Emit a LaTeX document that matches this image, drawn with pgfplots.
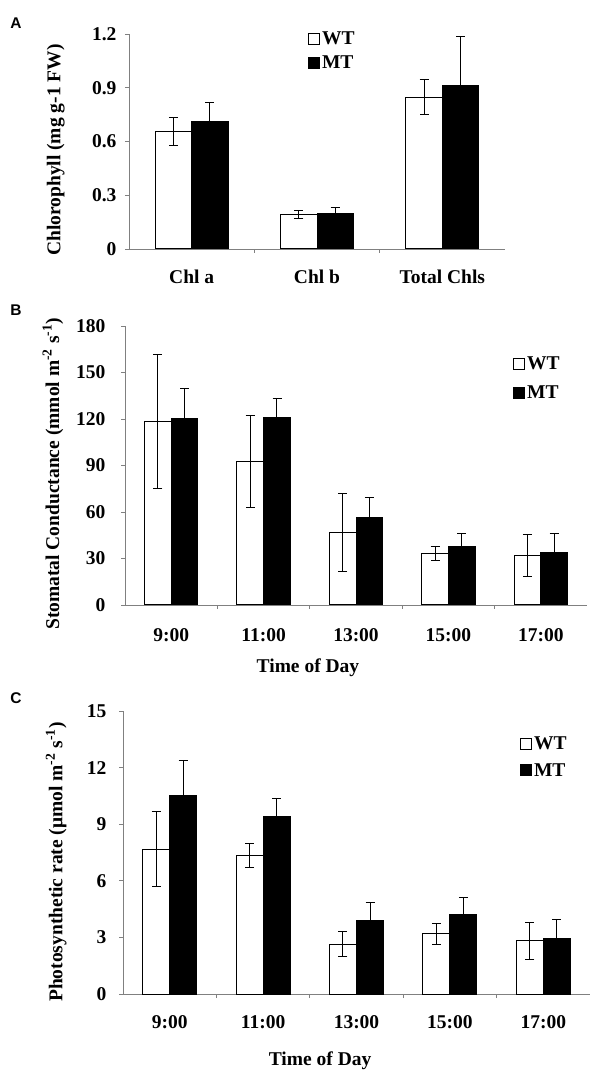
\documentclass[border=0pt]{standalone}
\usepackage{fontspec}
\setmainfont{Liberation Serif}
\newfontfamily\panelfont{Liberation Sans}
\usepackage{pgfplots}
\usepackage{pgfplotstable}
\pgfplotsset{compat=1.18}
\definecolor{axgray}{RGB}{128,128,128}

\pgfplotstableread{
x wt wte mt mte
0 0.657 0.077 0.711 0.104
1 0.193 0.023 0.199 0.034
2 0.848 0.100 0.912 0.273
}\dataA
\pgfplotstableread{
x wt wte mt mte
0 118.3 43.0 120.5 19.0
1 92.8 29.7 120.9 12.1
2 46.8 24.9 56.3 13.1
3 33.1 4.7 37.8 8.6
4 31.8 13.5 33.7 12.5
}\dataB
\pgfplotstableread{
x wt wte mt mte
0 7.68 1.99 10.50 1.87
1 7.32 0.64 9.42 0.92
2 2.65 0.65 3.92 0.93
3 3.19 0.55 4.20 0.92
4 2.81 0.97 2.93 1.04
}\dataC

\newcommand{\txtfont}{\fontsize{19.5}{22}\selectfont\bfseries}

\pgfplotsset{
  mybars/.style={
    scale only axis,
    axis x line*=bottom, axis y line*=left,
    axis line style={axgray, line width=0.9pt},
    tick align=outside,
    major tick length=4pt, minor tick length=4pt,
    major x tick style={draw=none},
    minor x tick style={axgray, line width=0.9pt},
    major y tick style={axgray, line width=0.9pt},
    ymin=0, xmin=-0.5,
    /pgf/number format/assume math mode=true,
    tick label style={font=\txtfont},
    label style={font=\txtfont},
    legend style={draw=none, fill=none, font=\txtfont, inner sep=0pt,
      cells={anchor=west}, legend cell align=left},
  },
  wtbar/.style={ybar, bar width=0.29, bar shift=0pt, fill=white, draw=black, line width=1pt, mark=none,
    legend image code/.code={\draw[line width=0.9pt, draw=black, fill=white] (0pt,-5.5pt) rectangle (11pt,5.5pt);},
    error bars/.cd, y dir=both, y explicit,
    error bar style={black, line width=1pt},
    error mark options={rotate=90, mark size=4.5pt, black, line width=1pt}},
  mtbar/.style={ybar, bar width=0.29, bar shift=0pt, fill=black, draw=black, line width=1pt, mark=none,
    legend image code/.code={\draw[line width=0.9pt, draw=black, fill=black] (0pt,-5.5pt) rectangle (11pt,5.5pt);},
    error bars/.cd, y dir=plus, y explicit,
    error bar style={black, line width=1pt},
    error mark options={rotate=90, mark size=4.5pt, black, line width=1pt}},
}

\begin{document}
\begin{tikzpicture}[x=1pt,y=1pt]
\useasboundingbox (0,0) rectangle (600,1082);

% Panel A
\begin{axis}[mybars, at={(129pt,833pt)}, anchor=south west,
  width=376pt, height=215pt,
  xmax=2.5, ymax=1.2,
  xtick={0,1,2}, xticklabels={Chl a, Chl b, Total Chls},
  minor xtick={0.5,1.5},
  ytick={0,0.3,0.6,0.9,1.2}, yticklabels={0,0.3,0.6,0.9,1.2},
  yticklabel style={xshift=-5pt},
  xticklabel style={yshift=-13pt},
  ylabel={Chlorophyll (mg g-1 FW)},
  ylabel style={at={(axis description cs:-0.195,0.46)}, anchor=center},
  legend style={at={(axis description cs:0.476,1.02)}, anchor=north west, row sep=6pt},
]
\addplot[wtbar] table[x expr=\thisrow{x}-0.145, y=wt, y error=wte] {\dataA};
\addplot[mtbar] table[x expr=\thisrow{x}+0.145, y=mt, y error=mte] {\dataA};
\legend{WT, MT}
\end{axis}

% Panel B
\begin{axis}[mybars, at={(125pt,477pt)}, anchor=south west,
  width=462pt, height=279pt,
  xmax=4.5, ymax=180,
  xtick={0,1,2,3,4}, xticklabels={9:00, 11:00, 13:00, 15:00, 17:00},
  minor xtick={0.5,1.5,2.5,3.5},
  ytick={0,30,60,90,120,150,180},
  yticklabel style={xshift=-12pt},
  xticklabel style={yshift=-16pt},
  ylabel={Stomatal Conductance (mmol m\textsuperscript{-2} s\textsuperscript{-1})},
  ylabel style={at={(axis description cs:-0.156,0.47)}, anchor=center},
  xlabel={Time of Day},
  xlabel style={at={(axis description cs:0.396,0)}, anchor=center, yshift=-63pt},
  legend style={at={(axis description cs:0.840,0.898)}, anchor=north west, row sep=11pt},
]
\addplot[wtbar] table[x expr=\thisrow{x}-0.145, y=wt, y error=wte] {\dataB};
\addplot[mtbar] table[x expr=\thisrow{x}+0.145, y=mt, y error=mte] {\dataB};
\legend{WT, MT}
\end{axis}

% Panel C
\begin{axis}[mybars, at={(123pt,88pt)}, anchor=south west,
  width=467pt, height=283pt,
  xmax=4.5, ymax=15,
  xtick={0,1,2,3,4}, xticklabels={9:00, 11:00, 13:00, 15:00, 17:00},
  minor xtick={0.5,1.5,2.5,3.5},
  ytick={0,3,6,9,12,15},
  yticklabel style={xshift=-9pt},
  xticklabel style={yshift=-14pt},
  ylabel={Photosynthetic rate (μmol m\textsuperscript{-2} s\textsuperscript{-1})},
  ylabel style={at={(axis description cs:-0.143,0.466)}, anchor=center},
  xlabel={Time of Day},
  xlabel style={at={(axis description cs:0.422,0)}, anchor=center, yshift=-67pt},
  legend style={at={(axis description cs:0.850,0.916)}, anchor=north west, row sep=8pt},
]
\addplot[wtbar] table[x expr=\thisrow{x}-0.145, y=wt, y error=wte] {\dataC};
\addplot[mtbar] table[x expr=\thisrow{x}+0.145, y=mt, y error=mte] {\dataC};
\legend{WT, MT}
\end{axis}

\node[font=\panelfont\bfseries\fontsize{15.5}{18}\selectfont, anchor=center] at (16,1082-23) {A};
\node[font=\panelfont\bfseries\fontsize{15.5}{18}\selectfont, anchor=center] at (16,1082-310) {B};
\node[font=\panelfont\bfseries\fontsize{15.5}{18}\selectfont, anchor=center] at (16,1082-698) {C};
\end{tikzpicture}
\end{document}
